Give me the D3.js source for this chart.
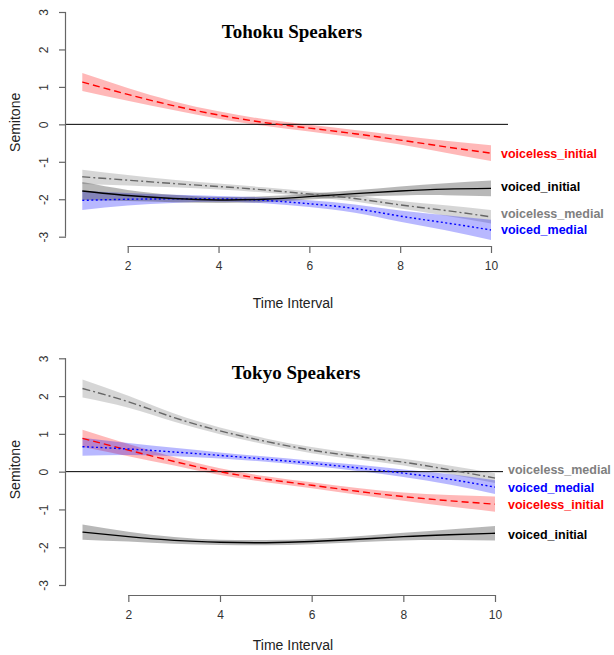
<!DOCTYPE html>
<html><head><meta charset="utf-8">
<script src="https://cdn.jsdelivr.net/npm/d3@7"></script>
<style>body{margin:0;background:#fff}svg{display:block}</style>
</head><body>
<svg id="c" width="614" height="655"></svg>
<script>
// ---- data ----
const timeIntervals = [1,2,3,4,5,6,7,8,9,10];
const xTicks = [2,4,6,8,10];
const yTicks = [-3,-2,-1,0,1,2,3];
const seriesNames = ["voiceless_initial","voiced_initial","voiceless_medial","voiced_medial"];
const panelTitles = ["Tohoku Speakers","Tokyo Speakers"];

// Tohoku
const tohokuVoicelessInitial = [1.13,0.80,0.50,0.25,0.05,-0.10,-0.25,-0.42,-0.60,-0.77];
const tohokuVoicelessInitialSE = [0.24,0.17,0.12,0.10,0.09,0.09,0.10,0.12,0.16,0.21];
const tohokuVoicedInitial = [-1.78,-1.90,-1.98,-2.02,-2.00,-1.93,-1.85,-1.78,-1.73,-1.71];
const tohokuVoicedInitialSE = [0.24,0.15,0.10,0.08,0.08,0.08,0.09,0.12,0.16,0.21];
const tohokuVoicelessMedial = [-1.40,-1.49,-1.58,-1.66,-1.75,-1.86,-1.98,-2.15,-2.30,-2.47];
const tohokuVoicelessMedialSE = [0.19,0.14,0.10,0.08,0.07,0.07,0.08,0.10,0.14,0.18];
const tohokuVoicedMedial = [-2.03,-2.00,-1.99,-1.99,-2.03,-2.12,-2.25,-2.45,-2.63,-2.82];
const tohokuVoicedMedialSE = [0.26,0.17,0.11,0.08,0.08,0.09,0.11,0.15,0.20,0.27];

// Tokyo
const tokyoVoicelessInitial = [0.88,0.57,0.27,0.00,-0.20,-0.36,-0.52,-0.66,-0.77,-0.86];
const tokyoVoicelessInitialSE = [0.23,0.16,0.11,0.09,0.08,0.08,0.09,0.11,0.15,0.20];
const tokyoVoicedInitial = [-1.60,-1.72,-1.82,-1.87,-1.88,-1.85,-1.79,-1.72,-1.67,-1.63];
const tokyoVoicedInitialSE = [0.20,0.13,0.09,0.07,0.07,0.07,0.08,0.10,0.14,0.19];
const tokyoVoicelessMedial = [2.20,1.85,1.43,1.08,0.80,0.57,0.40,0.25,0.05,-0.17];
const tokyoVoicelessMedialSE = [0.24,0.16,0.11,0.09,0.08,0.08,0.08,0.09,0.11,0.13];
const tokyoVoicedMedial = [0.66,0.60,0.52,0.43,0.33,0.22,0.10,-0.04,-0.20,-0.41];
const tokyoVoicedMedialSE = [0.24,0.16,0.11,0.08,0.07,0.07,0.08,0.10,0.14,0.18];

// ---- styles ----
const styles = {
  voiceless_initial:{line:"#ff0000", band:"rgba(255,0,0,0.28)", dash:"7,4", label:"#ff0000"},
  voiced_initial:{line:"#000000", band:"rgba(0,0,0,0.28)", dash:null, label:"#000000"},
  voiceless_medial:{line:"#666666", band:"rgba(0,0,0,0.16)", dash:"8,3,2,3", label:"#808080"},
  voiced_medial:{line:"#0000ff", band:"rgba(0,0,255,0.28)", dash:"2,2.5", label:"#0000ff"}
};

const panels = [
  {title:panelTitles[0], series:{
     voiceless_initial:[tohokuVoicelessInitial,tohokuVoicelessInitialSE],
     voiced_initial:[tohokuVoicedInitial,tohokuVoicedInitialSE],
     voiceless_medial:[tohokuVoicelessMedial,tohokuVoicelessMedialSE],
     voiced_medial:[tohokuVoicedMedial,tohokuVoicedMedialSE]},
   x:[82.3,491], y:[236.7,12], xAxisY:246, yAxisX:66, zeroEnd:508, titleX:292, titleY:38,
   xTitleY:308, labelX:501, nudge:{voiceless_initial:0,voiced_initial:-1.5,voiceless_medial:-3.5,voiced_medial:0}},
  {title:panelTitles[1], series:{
     voiceless_initial:[tokyoVoicelessInitial,tokyoVoicelessInitialSE],
     voiced_initial:[tokyoVoicedInitial,tokyoVoicedInitialSE],
     voiceless_medial:[tokyoVoicelessMedial,tokyoVoicelessMedialSE],
     voiced_medial:[tokyoVoicedMedial,tokyoVoicedMedialSE]},
   x:[82.5,495], y:[585,358.3], xAxisY:595, yAxisX:66, zeroEnd:503, titleX:296, titleY:379,
   xTitleY:650, labelX:508, nudge:{voiceless_initial:0.5,voiced_initial:1.5,voiceless_medial:-8,voiced_medial:0.5}}
];

const svg = d3.select("#c");
const sans = "Liberation Sans, Arial, sans-serif";
const drawOrder = ["voiceless_initial","voiceless_medial","voiced_medial","voiced_initial"];
const curve = d3.curveNatural;

panels.forEach(p => {
  const g = svg.append("g");
  const x = d3.scaleLinear().domain([1,10]).range(p.x);
  const y = d3.scaleLinear().domain([-3,3]).range(p.y);

  // bands
  drawOrder.forEach(name => {
    const [vals, se] = p.series[name];
    const area = d3.area().x((d,i)=>x(timeIntervals[i]))
      .y0((d,i)=>y(vals[i]-se[i])).y1((d,i)=>y(vals[i]+se[i])).curve(curve);
    g.append("path").attr("d", area(vals)).attr("fill", styles[name].band).attr("stroke","none");
  });

  // zero line
  g.append("line").attr("x1",p.yAxisX).attr("x2",p.zeroEnd).attr("y1",y(0)).attr("y2",y(0))
    .attr("stroke","#000").attr("stroke-width",1);

  // lines
  drawOrder.forEach(name => {
    const [vals] = p.series[name];
    const line = d3.line().x((d,i)=>x(timeIntervals[i])).y(d=>y(d)).curve(curve);
    const path = g.append("path").attr("d", line(vals)).attr("fill","none")
      .attr("stroke", styles[name].line).attr("stroke-width",1.4);
    if (styles[name].dash) path.attr("stroke-dasharray", styles[name].dash);
  });

  // labels
  seriesNames.forEach(name => {
    const [vals] = p.series[name];
    g.append("text").attr("x", p.labelX).attr("y", y(vals[vals.length-1]) + p.nudge[name])
      .attr("dy","0.35em").attr("fill", styles[name].label)
      .attr("font-family", sans).attr("font-weight","bold").attr("font-size","12.5px")
      .text(name);
  });

  // x axis
  const xAxis = d3.axisBottom(x).tickValues(xTicks).tickFormat(d=>String(d)).tickSize(7).tickPadding(8).tickSizeOuter(0);
  const xg = g.append("g").attr("transform",`translate(0,${p.xAxisY})`).call(xAxis);
  xg.select(".domain").attr("d", `M${x(2)},0.5H${x(10)}`).attr("stroke","#666").attr("stroke-width",1.2);
  xg.selectAll(".tick line").attr("stroke","#666").attr("stroke-width",1.2);
  xg.selectAll(".tick text").attr("font-family",sans).attr("font-size","12px").attr("fill","#333");

  // y axis
  const yAxis = d3.axisLeft(y).tickValues(yTicks).tickFormat(d=>String(d)).tickSize(7).tickPadding(8).tickSizeOuter(0);
  const yg = g.append("g").attr("transform",`translate(${p.yAxisX},0)`).call(yAxis);
  yg.select(".domain").attr("d", `M-0.5,${y(-3)}V${y(3)}`).attr("stroke","#666").attr("stroke-width",1.2);
  yg.selectAll(".tick line").attr("stroke","#666").attr("stroke-width",1.2);
  yg.selectAll(".tick text").attr("font-family",sans).attr("font-size","12px").attr("fill","#333")
    .attr("x",null)
    .attr("text-anchor","middle")
    .attr("transform","translate(-22,0) rotate(-90)")
    .attr("dy","0.35em");

  // titles
  g.append("text").attr("x",p.titleX).attr("y",p.titleY).attr("text-anchor","middle")
    .attr("font-family","Liberation Serif, Times New Roman, serif").attr("font-weight","bold")
    .attr("font-size","19px").attr("fill","#000").text(p.title);
  g.append("text").attr("x",293).attr("y",p.xTitleY).attr("text-anchor","middle")
    .attr("font-family",sans).attr("font-size","14px").attr("fill","#222").text("Time Interval");
  g.append("text").attr("transform",`translate(20,${y(0)-2}) rotate(-90)`).attr("text-anchor","middle")
    .attr("font-family",sans).attr("font-size","14px").attr("fill","#222").text("Semitone");
});
</script>
</body></html>
